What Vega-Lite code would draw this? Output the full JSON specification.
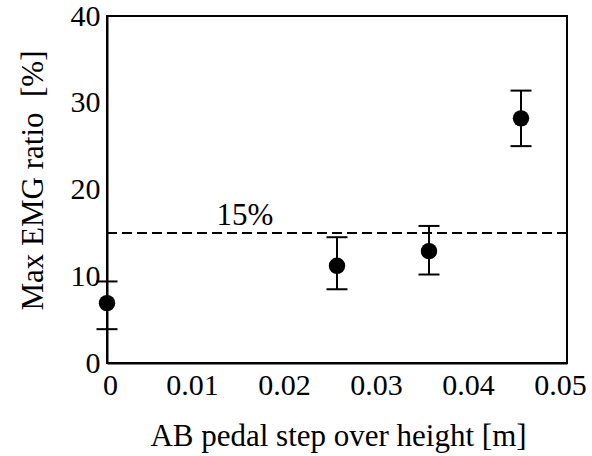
{
  "$schema": "https://vega.github.io/schema/vega-lite/v6.json",
  "width": 460,
  "height": 347,
  "autosize": {"type": "none"},
  "padding": {"left": 107, "top": 16, "right": 25, "bottom": 93},
  "background": "white",
  "config": {
    "view": {"stroke": "black", "strokeWidth": 2},
    "font": "Liberation Serif",
    "text": {"font": "Liberation Serif"},
    "axis": {
      "domainColor": "black",
      "domainWidth": 2,
      "ticks": false,
      "grid": false,
      "labelFont": "Liberation Serif",
      "labelFontSize": 30,
      "labelColor": "black",
      "titleFont": "Liberation Serif",
      "titleFontSize": 31,
      "titleFontWeight": "normal",
      "titleColor": "black",
      "labelOverlap": false,
      "labelFlush": false
    }
  },
  "datasets": {
    "emg": [
      {"height": 0.0, "ratio": 6.9, "lo": 3.9, "hi": 9.4},
      {"height": 0.025, "ratio": 11.2, "lo": 8.5, "hi": 14.5},
      {"height": 0.035, "ratio": 12.9, "lo": 10.2, "hi": 15.8},
      {"height": 0.045, "ratio": 28.2, "lo": 25.0, "hi": 31.4}
    ],
    "threshold": [{"height": 0.015, "ratio": 15, "label": "15%"}]
  },
  "layer": [
    {
      "data": {"name": "threshold"},
      "mark": {"type": "rule", "strokeDash": [10, 5], "strokeWidth": 2, "color": "black"},
      "encoding": {
        "y": {
          "field": "ratio",
          "type": "quantitative",
          "scale": {"domain": [0, 40], "nice": false},
          "axis": {
            "values": [0, 10, 20, 30, 40],
            "labelPadding": 7,
            "title": "Max EMG ratio\u00a0 [%]",
            "titleX": -65,
            "titleY": 164,
            "titleAngle": -90,
            "titleAlign": "center",
            "titleBaseline": "alphabetic"
          }
        }
      }
    },
    {
      "data": {"name": "threshold"},
      "mark": {"type": "text", "font": "Liberation Serif", "fontSize": 31, "baseline": "bottom", "align": "center", "dy": -1, "color": "black"},
      "encoding": {
        "x": {"field": "height", "type": "quantitative"},
        "y": {"field": "ratio", "type": "quantitative"},
        "text": {"field": "label"}
      }
    },
    {
      "data": {"name": "emg"},
      "mark": {"type": "rule", "strokeWidth": 2, "color": "black"},
      "encoding": {
        "x": {
          "field": "height",
          "type": "quantitative",
          "scale": {"domain": [0, 0.05], "nice": false},
          "axis": {
            "values": [0, 0.01, 0.02, 0.03, 0.04, 0.05],
            "format": ".2~f",
            "labelPadding": 7,
            "labelOffset": {"condition": {"test": "datum.value == 0", "value": 3}, "value": -7},
            "title": "AB pedal step over height [m]",
            "titleX": 231,
            "titleY": 82,
            "titleAlign": "center",
            "titleBaseline": "alphabetic"
          }
        },
        "y": {"field": "lo", "type": "quantitative"},
        "y2": {"field": "hi"}
      }
    },
    {
      "data": {"name": "emg"},
      "mark": {"type": "tick", "orient": "horizontal", "size": 21, "thickness": 2, "color": "black", "opacity": 1},
      "encoding": {
        "x": {"field": "height", "type": "quantitative"},
        "y": {"field": "lo", "type": "quantitative"}
      }
    },
    {
      "data": {"name": "emg"},
      "mark": {"type": "tick", "orient": "horizontal", "size": 21, "thickness": 2, "color": "black", "opacity": 1},
      "encoding": {
        "x": {"field": "height", "type": "quantitative"},
        "y": {"field": "hi", "type": "quantitative"}
      }
    },
    {
      "data": {"name": "emg"},
      "mark": {"type": "point", "shape": "circle", "filled": true, "size": 270, "color": "black", "opacity": 1},
      "encoding": {
        "x": {"field": "height", "type": "quantitative"},
        "y": {"field": "ratio", "type": "quantitative"}
      }
    }
  ]
}
